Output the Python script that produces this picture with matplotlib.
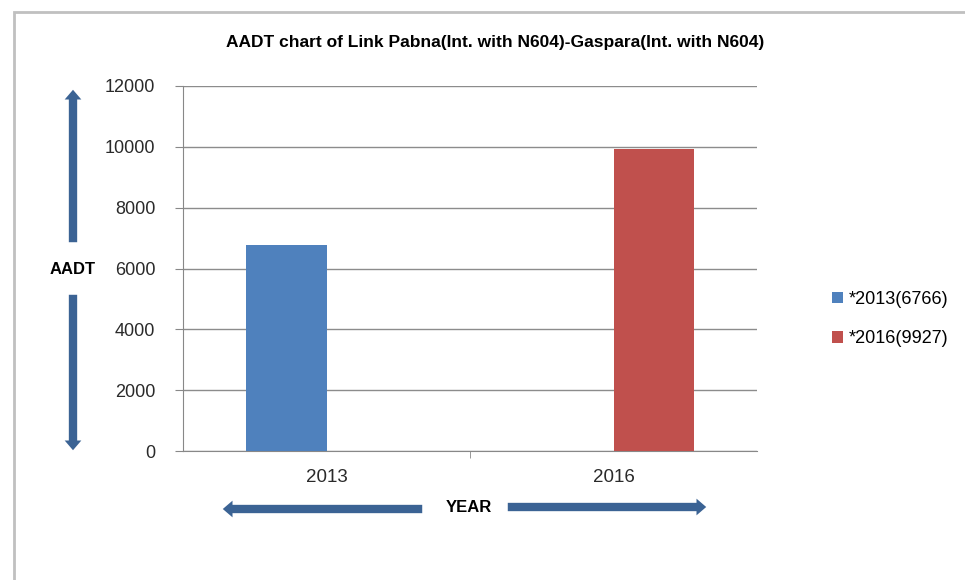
import matplotlib.pyplot as plt
from matplotlib.patches import FancyArrowPatch, Rectangle

years = ["2013", "2016"]
series_labels = ["*2013(6766)", "*2016(9927)"]
series_values = [[6766, 0], [0, 9927]]
series_colors = ["#4F81BD", "#C0504D"]
yticks = [0, 2000, 4000, 6000, 8000, 10000, 12000]

plt.rcParams["font.family"] = ["Liberation Sans", "DejaVu Sans"]

W, H = 965, 580
fig = plt.figure(figsize=(W / 100, H / 100), dpi=100)


def fx(px):
    return px / W


def fy(py):
    return 1 - py / H


ax = fig.add_axes([fx(183), fy(451), fx(757) - fx(183), fy(86) - fy(451)])

bw = 0.282
offsets = [-bw / 2, bw / 2]
for vals, lab, col, off in zip(series_values, series_labels, series_colors, offsets):
    xs = [i + off for i in range(len(years))]
    ax.bar(xs, vals, width=bw, color=col, label=lab, zorder=3)

ax.set_xlim(-0.5, len(years) - 0.5)
ax.set_ylim(0, 12000)
ax.set_yticks(yticks)
ax.set_yticklabels([str(v) for v in yticks], fontsize=13, color="#2A2A2A")
ax.set_xticks(range(len(years)))
ax.set_xticklabels(years, fontsize=13.5, color="#2A2A2A")
ax.tick_params(axis="x", length=0, pad=13)
ax.tick_params(axis="y", length=6, color="#888888", pad=14)
# category boundary tick
ax.set_xticks([0.5], minor=True)
ax.tick_params(axis="x", which="minor", length=5, color="#888888")

ax.yaxis.grid(True, color="#8C8C8C", lw=1, zorder=0)
for s in ["top", "right"]:
    ax.spines[s].set_visible(False)
ax.spines["left"].set_color("#888888")
ax.spines["bottom"].set_color("#888888")

fig.text(fx(495), fy(42), "AADT chart of Link Pabna(Int. with N604)-Gaspara(Int. with N604)",
         ha="center", va="center", fontsize=12.5, fontweight="bold")

fig.legend(loc="center left", bbox_to_anchor=(fx(816), fy(319)), frameon=False,
           handlelength=0.6, handleheight=0.6, handletextpad=0.3, labelspacing=1.25,
           prop={"size": 13})

arrow_col = "#3B6394"


def add_arrow(x0, y0, x1, y1):
    a = FancyArrowPatch((fx(x0), fy(y0)), (fx(x1), fy(y1)), transform=fig.transFigure,
                        arrowstyle="simple,head_length=7,head_width=12,tail_width=6",
                        mutation_scale=1, color=arrow_col, lw=0)
    fig.add_artist(a)


add_arrow(73, 245, 73, 87)
add_arrow(73, 292, 73, 453)
add_arrow(425, 509, 220, 509)
add_arrow(505, 507, 709, 507)

fig.text(fx(73), fy(270), "AADT", ha="center", va="center", fontsize=12, fontweight="bold")
fig.text(fx(469), fy(508), "YEAR", ha="center", va="center", fontsize=12, fontweight="bold")

fig.add_artist(Rectangle((fx(14), -0.1), 1, fy(12) + 0.1, transform=fig.transFigure,
                         fill=False, edgecolor="#C0C0C0", lw=2))

fig.savefig("out.png", dpi=100)
